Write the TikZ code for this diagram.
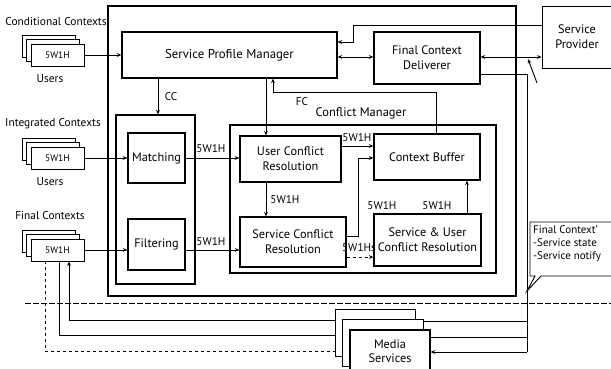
\documentclass[tikz,border=0pt]{standalone}
\usepackage{fontspec}
\setmainfont{PT Sans}
\usetikzlibrary{arrows.meta,calc}
\begin{document}
\begin{tikzpicture}[x=1pt,y=-1pt,
  box/.style={draw,line width=1.2pt,fill=white,inner sep=0pt,align=center,font=\fontsize{12.3}{15}\selectfont},
  cbox/.style={draw,line width=1.5pt,inner sep=0pt},
  stk/.style={draw,line width=0.9pt,fill=white,minimum width=53pt,minimum height=22pt,inner sep=0pt,font=\fontsize{9.5}{11}\selectfont},
  lab/.style={font=\fontsize{11.4}{13}\selectfont,inner sep=0pt},
  slab/.style={font=\fontsize{11.2}{13}\selectfont,inner sep=0pt},
  conn/.style={line width=0.9pt},
  arr/.style={conn,-{Stealth[length=4.5pt,width=3.8pt]}},
  darr/.style={conn,{Stealth[length=4.5pt,width=3.8pt]}-{Stealth[length=4.5pt,width=3.8pt]}}
]
\useasboundingbox (0,0) rectangle (611,368);
\clip (0,0) rectangle (611,368);
\fill[white] (0,0) rectangle (611,368);

% helper coordinates
\coordinate (ccx) at (158,0);
\coordinate (ucx) at (266,0);
\coordinate (fcx) at (273,0);
\coordinate (cbx) at (436,0);
\coordinate (sux) at (467,0);
\coordinate (jx) at (358,0);
\coordinate (spx) at (353,0);
\coordinate (rvx) at (527,0);
\coordinate (x45) at (45,0);
\coordinate (x59) at (59,0);
\coordinate (x69) at (69,0);
\coordinate (y25) at (0,25);
\coordinate (y42) at (0,42);
\coordinate (y57) at (0,57);
\coordinate (y74) at (0,74);
\coordinate (fcy) at (0,92);
\coordinate (y146) at (0,146);
\coordinate (y158) at (0,158);
\coordinate (y236) at (0,236);
\coordinate (y257) at (0,257);
\coordinate (y322) at (0,320);
\coordinate (y323) at (0,321);
\coordinate (y336) at (0,335);
\coordinate (y338) at (0,337);
\coordinate (y352) at (0,351);
\coordinate (y353) at (0,352);

% containers
\node[cbox,minimum width=408pt,minimum height=290pt] (outer) at (312,151) {};
\node[cbox,line width=1.3pt,minimum width=79pt,minimum height=169pt] (mf) at (155.5,199.5) {};
\node[cbox,line width=1.3pt,minimum width=266pt,minimum height=148pt] (cm) at (363,199) {};
\node[lab,font=\fontsize{12.5}{14}\selectfont] (cmlab) at (361,113) {Conflict Manager};

% main boxes
\node[box,minimum width=215pt,minimum height=46pt,font=\fontsize{12.8}{15}\selectfont] (spm) at (229.5,55) {Service Profile Manager};
\node[box,minimum width=106pt,minimum height=52pt] (fcd) at (427,58) {Final Context\\Deliverer};
\node[box,line width=0.9pt,minimum width=70pt,minimum height=62pt] (sp) at (577,37) {Service\\Provider};
\node[box,minimum width=57pt,minimum height=50pt] (match) at (156.5,158) {Matching};
\node[box,minimum width=57pt,minimum height=51pt] (filt) at (156.5,244.5) {Filtering};
\node[box,minimum width=101pt,minimum height=46pt] (ucr) at (290.5,159) {User Conflict\\Resolution};
\node[box,minimum width=106pt,minimum height=50pt] (scr) at (293,242) {Service Conflict\\Resolution};
\node[box,minimum width=106pt,minimum height=46pt] (cb) at (427,157) {Context Buffer};
\node[box,minimum width=107pt,minimum height=52pt] (su) at (427.5,240) {Service \& User\\Conflict Resolution};

% stacks
\node[stk] (cback) at (49,46) {};
\node[stk] (cmid) at (53,50.5) {};
\node[stk] (cfront) at (57.5,55) {5W1H};
\node[lab] (clab) at (56,22) {Conditional Contexts};
\node[lab] (cusr) at (50,79) {Users};

\node[stk] (iback) at (49,149) {};
\node[stk] (imid) at (53,153.5) {};
\node[stk] (ifront) at (57.5,158) {5W1H};
\node[lab] (ilab) at (53,124) {Integrated Contexts};
\node[lab] (iusr) at (50,182) {Users};

\node[stk] (fback) at (49,241) {};
\node[stk] (fmid) at (53,245.5) {};
\node[stk] (ffront) at (57.5,250) {5W1H};
\node[lab] (flab) at (50,216) {Final Contexts};

% left inputs
\draw[arr] (cfront.east) -- (spm.west |- cfront.east);
\draw[arr] (ifront.east) -- (match.west |- ifront.east);
\draw[arr] (ffront.east) -- (filt.west |- ffront.east);
\draw[arr] (match.east) -- (ucr.west |- match.east);
\node[slab] (l1) at (211,149) {5W1H};
\draw[arr] (filt.east |- ffront.east) -- (scr.west |- ffront.east);
\node[slab] (l2) at (211,242) {5W1H};

% CC and FC
\draw[arr] (spm.south -| ccx) -- (mf.north -| ccx);
\node[slab] (cc) at (171,97) {CC};
\draw[arr] (cb.north -| cbx) -- (cbx |- fcy) -- (fcx |- fcy) -- (spm.south -| fcx);
\node[slab] (fc) at (302,102) {FC};
\draw[arr] (spm.south -| ucx) -- (ucr.north -| ucx);

% conflict manager internals
\draw[arr] (ucr.south -| ucx) -- (scr.north -| ucx);
\node[slab] (l3) at (285,200) {5W1H};
\draw[arr] (ucr.east |- y146) -- (cb.west |- y146);
\node[slab] (l4) at (357,138) {5W1H};
\draw[arr] (scr.east |- y236) -- (jx |- y236) -- (jx |- y158) -- (cb.west |- y158);
\node[slab] (l5) at (382,206) {5W1H};
\draw[arr,dashed] (scr.east |- y257) -- (su.west |- y257);
\node[slab] (l6) at (359,248) {5W1Hs};
\draw[arr] (su.north -| sux) -- (cb.south -| sux);
\node[slab] (l7) at (437,206) {5W1H};

% right side
\draw[arr] (sp.west |- y25) -- (spx |- y25) -- (spx |- y42) -- (spm.east |- y42);
\draw[darr] (spm.east |- y57) -- (fcd.west |- y57);
\draw[darr] (fcd.east |- y57) -- (sp.west |- y57);
\coordinate (dga) at (537,83);
\coordinate (dgb) at (528,59);
\draw[arr] (dga) -- (dgb);
\draw[conn] (fcd.east |- y74) -- (rvx |- y74) -- (rvx |- y353);

% dotted separator
\coordinate (dl) at (25,303);
\coordinate (dr) at (611,303);
\draw[line width=0.6pt,dash pattern=on 6pt off 2pt] (dl) -- (dr);

% callout
\coordinate (cpt) at (527,291);
\draw[line width=0.9pt,fill=white] (530,222) -- (615,222) -- (615,276) -- (541,276) -- (cpt) -- (535,276) -- (530,276) -- cycle;
\node[lab,anchor=north west,align=left,font=\fontsize{11}{13}\selectfont] (call) at (533,225) {Final Context'\\-Service state\\-Service notify};

% media services lines (behind boxes)
\coordinate (mbw) at (335,0);
\draw[arr] (mbw |- y322) -- (x69 |- y322) -- (ffront.south -| x69);
\draw[conn] (ffront.south -| x59) -- (x59 |- y336) -- (342,335);
\draw[conn,dashed] (ffront.south -| x45) -- (x45 |- y352) -- (350,351);
\draw[conn] (rvx |- y323) -- (423,321);
\draw[conn] (rvx |- y338) -- (430,337);

% media services boxes
\node[stk,line width=1pt,minimum width=80pt,minimum height=47pt] (mback) at (375,333) {};
\node[stk,line width=1pt,minimum width=81pt,minimum height=47pt] (mmid) at (382.5,342.5) {};
\node[box,minimum width=80pt,minimum height=42pt,font=\fontsize{12.3}{14.5}\selectfont] (mfront) at (390,351) {Media\\Services};
\draw[arr] (rvx |- y353) -- (mfront.east |- y353);
\end{tikzpicture}
\end{document}
